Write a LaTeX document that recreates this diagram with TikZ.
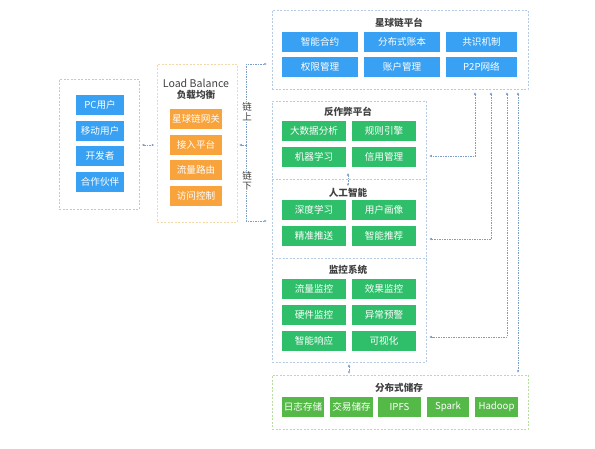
\documentclass[tikz,border=0pt]{standalone}
\usepackage{fontspec}
\setmainfont{Noto Sans CJK SC}
\usetikzlibrary{arrows.meta}
\definecolor{cblue}{HTML}{38A1F3}
\definecolor{cgreen}{HTML}{2FBF6B}
\definecolor{cgreen2}{HTML}{55B948}
\definecolor{corange}{HTML}{F8A33C}
\definecolor{cframe}{HTML}{B5CBE3}
\definecolor{cframeo}{HTML}{F3D9A9}
\definecolor{cframeg}{HTML}{B9DDA0}
\definecolor{cconn}{HTML}{7C9DC8}
\definecolor{ctitle}{HTML}{404040}
\begin{document}
\begin{tikzpicture}[x=1pt,y=-1pt,
  btn/.style={rectangle, inner sep=0pt, minimum height=20pt, text=white, font=\fontsize{9.6}{10}\selectfont},
  bbtn/.style={btn, fill=cblue},
  gbtn/.style={btn, fill=cgreen, minimum width=64pt},
  g2btn/.style={btn, fill=cgreen2},
  obtn/.style={btn, fill=corange, minimum width=52pt},
  grp/.style={rectangle, draw=cframe, line width=0.5pt, dash pattern=on 2pt off 1.5pt, inner sep=0pt},
  ttl/.style={text=ctitle, font=\fontsize{9.6}{10}\selectfont\bfseries, inner sep=0pt},
  conn/.style={draw=cconn, line width=0.5pt, dash pattern=on 1.5pt off 1pt, arrows={-Latex[length=2.5pt,width=2.5pt]}},
  bconn/.style={conn, arrows={Latex[length=2.5pt,width=2.5pt]-Latex[length=2.5pt,width=2.5pt]}},
]
\useasboundingbox (0,0) rectangle (595,448);

% users
\node[grp, minimum width=80pt, minimum height=130pt] (users) at (99,144) {};
\node[bbtn, minimum width=48pt] (u1) at (100,105) {PC用户};
\node[bbtn, minimum width=48pt] (u2) at (100,130.5) {移动用户};
\node[bbtn, minimum width=48pt] (u3) at (100,156) {开发者};
\node[bbtn, minimum width=48pt] (u4) at (100,182) {合作伙伴};

% load balance
\node[grp, draw=cframeo, minimum width=80pt, minimum height=158pt] (lb) at (197,143) {};
\node[text=ctitle, inner sep=0pt, font=\fontsize{10.6}{11}\selectfont] (lbt1) at (196,83) {Load Balance};
\node[ttl] (lbt2) at (196,95) {负载均衡};
\node[obtn] (o1) at (196,119) {星球链网关};
\node[obtn] (o2) at (196,144.5) {接入平台};
\node[obtn] (o3) at (196,170) {流量路由};
\node[obtn] (o4) at (196,196) {访问控制};

% platform
\node[grp, minimum width=256pt, minimum height=79pt] (plat) at (400,49.5) {};
\node[ttl] (platt) at (399,23) {星球链平台};
\node[bbtn, minimum width=76pt] (p1) at (320,42) {智能合约};
\node[bbtn, minimum width=76pt] (p2) at (402,42) {分布式账本};
\node[bbtn, minimum width=71pt] (p3) at (481.5,42) {共识机制};
\node[bbtn, minimum width=76pt] (p4) at (320,67) {权限管理};
\node[bbtn, minimum width=76pt] (p5) at (402,67) {账户管理};
\node[bbtn, minimum width=71pt] (p6) at (481.5,67) {P2P网络};

% middle stack
\node[grp, minimum width=154pt, minimum height=261pt] (mid) at (349,231.5) {};
\coordinate (s1) at (272,179);
\coordinate (s2) at (272,258);
\draw[draw=cframe, line width=0.5pt, dash pattern=on 2pt off 1.5pt] (s1) -- (s1 -| mid.east);
\draw[draw=cframe, line width=0.5pt, dash pattern=on 2pt off 1.5pt] (s2) -- (s2 -| mid.east);
\node[ttl] (at) at (348,112) {反作弊平台};
\node[gbtn] (a1) at (314,131) {大数据分析};
\node[gbtn] (a2) at (384,131) {规则引擎};
\node[gbtn] (a3) at (314,157) {机器学习};
\node[gbtn] (a4) at (384,157) {信用管理};
\node[ttl] (it) at (348,193) {人工智能};
\node[gbtn] (i1) at (314,210) {深度学习};
\node[gbtn] (i2) at (384,210) {用户画像};
\node[gbtn] (i3) at (314,236) {精准推送};
\node[gbtn] (i4) at (384,236) {智能推荐};
\node[ttl] (mt) at (348,270) {监控系统};
\node[gbtn] (m1) at (314,289) {流量监控};
\node[gbtn] (m2) at (384,289) {效果监控};
\node[gbtn] (m3) at (314,315) {硬件监控};
\node[gbtn] (m4) at (384,315) {异常预警};
\node[gbtn] (m5) at (314,341) {智能响应};
\node[gbtn] (m6) at (384,341) {可视化};

% storage
\node[grp, draw=cframeg, minimum width=256pt, minimum height=54pt] (stor) at (400,402) {};
\node[ttl] (st) at (399,388) {分布式储存};
\node[g2btn, minimum width=42pt] (d1) at (303,407) {日志存储};
\node[g2btn, minimum width=43pt] (d2) at (351.5,407) {交易储存};
\node[g2btn, minimum width=43pt] (d3) at (399.5,407) {IPFS};
\node[g2btn, minimum width=42pt] (d4) at (448,407) {Spark};
\node[g2btn, minimum width=43pt] (d5) at (496.5,407) {Hadoop};

% connectors left
\draw[bconn, shorten <=2.5pt, shorten >=2.5pt] (users.east |- 0,145) -- (lb.west |- 0,145);
\coordinate (j) at (246,145);
\coordinate (jt) at (246,64);
\coordinate (jb) at (246,221);
\draw[conn, shorten >=2pt] (j) -- (j -| lb.east);
\draw[conn, shorten >=5pt] (j) -- (jt) -- (jt -| plat.west);
\draw[conn, shorten >=5pt] (j) -- (jb) -- (jb -| mid.west);
\node[fill=white, inner sep=0.5pt, text=ctitle, align=center, font=\fontsize{9.5}{10}\selectfont] (lup) at (247,112) {链\\上};
\node[fill=white, inner sep=0.5pt, text=ctitle, align=center, font=\fontsize{9.5}{10}\selectfont] (ldn) at (247,181) {链\\下};

% vertical small double arrows
\draw[bconn] (348,173) -- (348,186);
\draw[bconn, shorten <=2pt, shorten >=1pt] (mid.south) -- (stor.north -| mid.south);

% right connectors
\coordinate (r1) at (475,156);
\coordinate (r2) at (491,239);
\coordinate (r3) at (507,337);
\coordinate (r4) at (518,373);
\draw[bconn, shorten <=3pt, shorten >=3pt] (r1 |- plat.south) -- (r1) -- (r1 -| mid.east);
\draw[bconn, shorten <=3pt, shorten >=3pt] (r2 |- plat.south) -- (r2) -- (r2 -| mid.east);
\draw[bconn, shorten <=3pt, shorten >=3pt] (r3 |- plat.south) -- (r3) -- (r3 -| mid.east);
\draw[bconn, shorten <=3pt, shorten >=2pt] (r4 |- plat.south) -- (r4 |- stor.north);
\end{tikzpicture}
\end{document}
